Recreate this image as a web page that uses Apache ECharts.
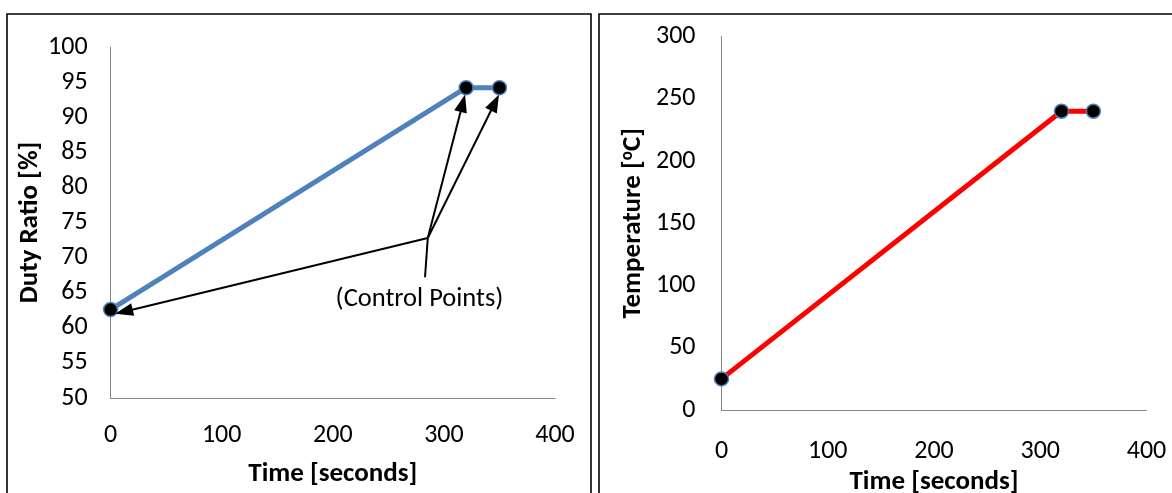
<!DOCTYPE html>
<html>
<head>
<meta charset="utf-8">
<script src="https://cdn.jsdelivr.net/npm/echarts@6/dist/echarts.min.js"></script>
<style>
html,body{margin:0;padding:0;background:#fff;}
#c{width:1172px;height:493px;}
</style>
</head>
<body>
<div id="c"></div>
<script>
// ---- data ----
var timeS = [0, 320, 350];
var dutyRatio = [62.6, 94.2, 94.2];
var temperature = [25, 240, 240];
var xTicks = [0, 100, 200, 300, 400];
var dutyTicks = [50, 100, 5];      // min, max, step
var tempTicks = [0, 300, 50];      // min, max, step
var annotationText = '(Control Points)';
// annotation anchors in data units of the left chart
var hub = [285.5, 72.8];
var textFoot = [283, 67.2];
var arrowTips = [[12, 62.3], [317, 92.0], [346, 92.1]];
var textPos = [278, 64.1];

function pairs(xs, ys){ return xs.map(function(x,i){ return [x, ys[i]]; }); }

var FONT = 'Carlito, Calibri, Lato, sans-serif';
var axisLineStyle = {lineStyle:{color:'#868686', width:1}};
var blue = '#4F81BD';
var TICK = 26, TITLE = 27;

function xAx(grid, margin, gap){
  return {
    type:'value', gridIndex:grid, min:xTicks[0], max:xTicks[xTicks.length-1], interval:100,
    axisLine:axisLineStyle, axisTick:{show:false}, splitLine:{show:false},
    axisLabel:{color:'#000', fontSize:TICK, fontFamily:FONT, margin:margin},
    name:'Time [seconds]', nameLocation:'middle', nameGap:gap,
    nameTextStyle:{color:'#000', fontSize:TITLE, fontWeight:'bold', fontFamily:FONT}
  };
}

function frames(){
  return [
    {type:'rect', shape:{x:7, y:14, width:584, height:500}, style:{fill:'none', stroke:'#000', lineWidth:1.6}, silent:true},
    {type:'rect', shape:{x:599, y:14, width:600, height:500}, style:{fill:'none', stroke:'#000', lineWidth:1.6}, silent:true}
  ];
}

var chart = echarts.init(document.getElementById('c'), null, {renderer:'canvas'});
var option = {
  backgroundColor:'#fff',
  animation:false,
  graphic:frames(),
  grid:[
    {left:110.6, top:47, width:444.4, height:351, containLabel:false, outerBoundsMode:'none'},
    {left:721.5, top:36.5, width:425, height:373.5, containLabel:false, outerBoundsMode:'none'}
  ],
  xAxis:[ xAx(0, 24, 63), xAx(1, 28, 59) ],
  yAxis:[
    {type:'value', gridIndex:0, min:dutyTicks[0], max:dutyTicks[1], interval:dutyTicks[2],
     axisLine:{show:true, lineStyle:{color:'#868686', width:1}}, axisTick:{show:false}, splitLine:{show:false},
     axisLabel:{color:'#000', fontSize:TICK, fontFamily:FONT, margin:23},
     name:'Duty Ratio [%]', nameLocation:'middle', nameGap:66,
     nameTextStyle:{color:'#000', fontSize:TITLE, fontWeight:'bold', fontFamily:FONT}},
    {type:'value', gridIndex:1, min:tempTicks[0], max:tempTicks[1], interval:tempTicks[2],
     axisLine:{show:true, lineStyle:{color:'#868686', width:1}}, axisTick:{show:false}, splitLine:{show:false},
     axisLabel:{color:'#000', fontSize:TICK, fontFamily:FONT, margin:26},
     name:'Temperature [{s|o}C]', nameLocation:'middle', nameGap:75,
     nameTextStyle:{color:'#000', fontSize:TITLE, fontWeight:'bold', fontFamily:FONT,
       rich:{s:{fontSize:17, fontWeight:'bold', fontFamily:FONT, color:'#000', verticalAlign:'top', padding:[0,0,10,0]}}}}
  ],
  series:[
    {type:'line', xAxisIndex:0, yAxisIndex:0, data:pairs(timeS, dutyRatio),
     lineStyle:{color:blue, width:5}, symbol:'circle', symbolSize:14,
     itemStyle:{color:'#000', borderColor:blue, borderWidth:1.5}, z:3,
     markLine:{
       silent:true, animation:false, symbol:['none','triangle'], symbolSize:[13,18],
       lineStyle:{color:'#000', width:2, type:'solid'}, label:{show:false},
       data: arrowTips.map(function(t){ return [{coord:hub}, {coord:t}]; })
         .concat([[{coord:hub, symbol:'none'}, {coord:textFoot, symbol:'none'}]])
     }},
    {type:'line', xAxisIndex:1, yAxisIndex:1, data:pairs(timeS, temperature),
     lineStyle:{color:'#FF0000', width:5}, symbol:'circle', symbolSize:14,
     itemStyle:{color:'#000', borderColor:blue, borderWidth:1.5}, z:3}
  ]
};
chart.setOption(option);
var p = chart.convertToPixel({gridIndex:0}, textPos);
chart.setOption({graphic:frames().concat([
  {type:'text', x:p[0], y:p[1], silent:true, z:10,
   style:{text:annotationText, fill:'#000', font:'26.5px ' + FONT, textAlign:'center', textVerticalAlign:'middle'}}
])});
</script>
</body>
</html>
